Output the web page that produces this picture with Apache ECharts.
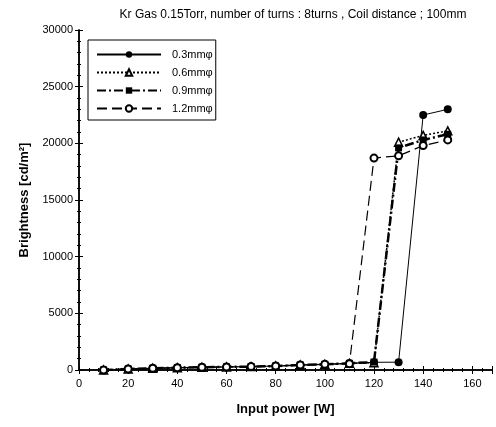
<!DOCTYPE html>
<html><head><meta charset="utf-8">
<script src="https://cdn.jsdelivr.net/npm/echarts@6/dist/echarts.min.js"></script>
<style>html,body{margin:0;padding:0;background:#fff}#c{width:496px;height:427px}</style>
</head><body><div id="c"></div>
<script>
const power = [10,20,30,40,50,60,70,80,90,100,110,120,130,140,150];
const s03 = [0,90,150,200,240,270,300,350,440,500,590,680,690,22500,23000];
const s06 = [0,90,150,200,240,270,300,350,440,500,590,640,20100,20700,21100];
const s09 = [0,90,150,200,240,270,300,350,440,500,590,700,19600,20300,20800];
const s12 = [0,90,150,200,240,270,300,350,440,500,560,18700,18900,19800,20300];
const names = ['0.3mmφ','0.6mmφ','0.9mmφ','1.2mmφ'];
const xTicks = [0,20,40,60,80,100,120,140,160];
const yTicks = [0,5000,10000,15000,20000,25000,30000];

const chart = echarts.init(document.getElementById('c'));
const font = 'Liberation Sans, Arial, sans-serif';
function pairs(v){return power.map((p,i)=>[p,v[i]]);}
const base = {type:'line', animation:false, z:3};
const series = [
  Object.assign({}, base, {name:names[0], data:pairs(s03), symbol:'circle', symbolSize:8,
    itemStyle:{color:'#000'}, lineStyle:{color:'#000', width:1, type:'solid'}}),
  Object.assign({}, base, {name:names[1], data:pairs(s06), symbol:'triangle', symbolSize:8,
    itemStyle:{color:'#fff', borderColor:'#000', borderWidth:1.5}, lineStyle:{color:'#000', width:1.5, type:[2,2]}}),
  Object.assign({}, base, {name:names[2], data:pairs(s09), symbol:'rect', symbolSize:7,
    itemStyle:{color:'#000'}, lineStyle:{color:'#000', width:2.5, type:[9,3,2,3]}}),
  Object.assign({}, base, {name:names[3], data:pairs(s12), symbol:'circle', symbolSize:7,
    itemStyle:{color:'#fff', borderColor:'#000', borderWidth:2}, lineStyle:{color:'#000', width:1.2, type:[10,5]}})
];
const axisCommon = {
  axisLine:{show:true, lineStyle:{color:'#000', width:1.5}},
  axisTick:{show:true, inside:true, length:4, lineStyle:{color:'#000'}},
  minorTick:{show:true, splitNumber:5, length:2, lineStyle:{color:'#000'}},
  splitLine:{show:false}
};
chart.setOption({
  backgroundColor:'#fff',
  title:{text:'Kr Gas 0.15Torr, number of turns : 8turns , Coil distance ; 100mm', left:288, top:4, textAlign:'center',
    textStyle:{fontFamily:font, fontSize:12, fontWeight:'normal', color:'#000'}},
  grid:{left:79, right:4, top:30, bottom:57},
  legend:{data:names, orient:'vertical', left:88, top:40, itemWidth:64, itemHeight:8, itemGap:7,
    borderColor:'#000', borderWidth:1, padding:[9,3,6,8], backgroundColor:'#fff',
    textStyle:{fontFamily:font, fontSize:11, color:'#000', padding:[0,0,0,6]}},
  xAxis:[
    Object.assign({type:'value', min:0, max:168, interval:20, position:'bottom',
      name:'Input power [W]', nameLocation:'middle', nameGap:33,
      nameTextStyle:{fontFamily:font, fontSize:13, fontWeight:'bold', color:'#000'},
      axisLabel:{fontFamily:font, fontSize:11, color:'#000', margin:8, showMaxLabel:false,
        formatter:v=>xTicks.includes(v)?String(v):''}}, axisCommon),
    Object.assign({type:'value', min:0, max:168, interval:20, position:'top', axisLabel:{show:false}}, axisCommon)
  ],
  yAxis:[
    Object.assign({type:'value', min:0, max:30000, interval:5000, position:'left',
      name:'Brightness [cd/m²]', nameLocation:'middle', nameGap:48,
      nameTextStyle:{fontFamily:font, fontSize:13, fontWeight:'bold', color:'#000'},
      axisLabel:{fontFamily:font, fontSize:11, color:'#000', margin:6,
        formatter:v=>yTicks.includes(v)?String(v):''}}, axisCommon),
    Object.assign({type:'value', min:0, max:30000, interval:5000, position:'right', axisLabel:{show:false}}, axisCommon)
  ],
  series: series
});
</script></body></html>
